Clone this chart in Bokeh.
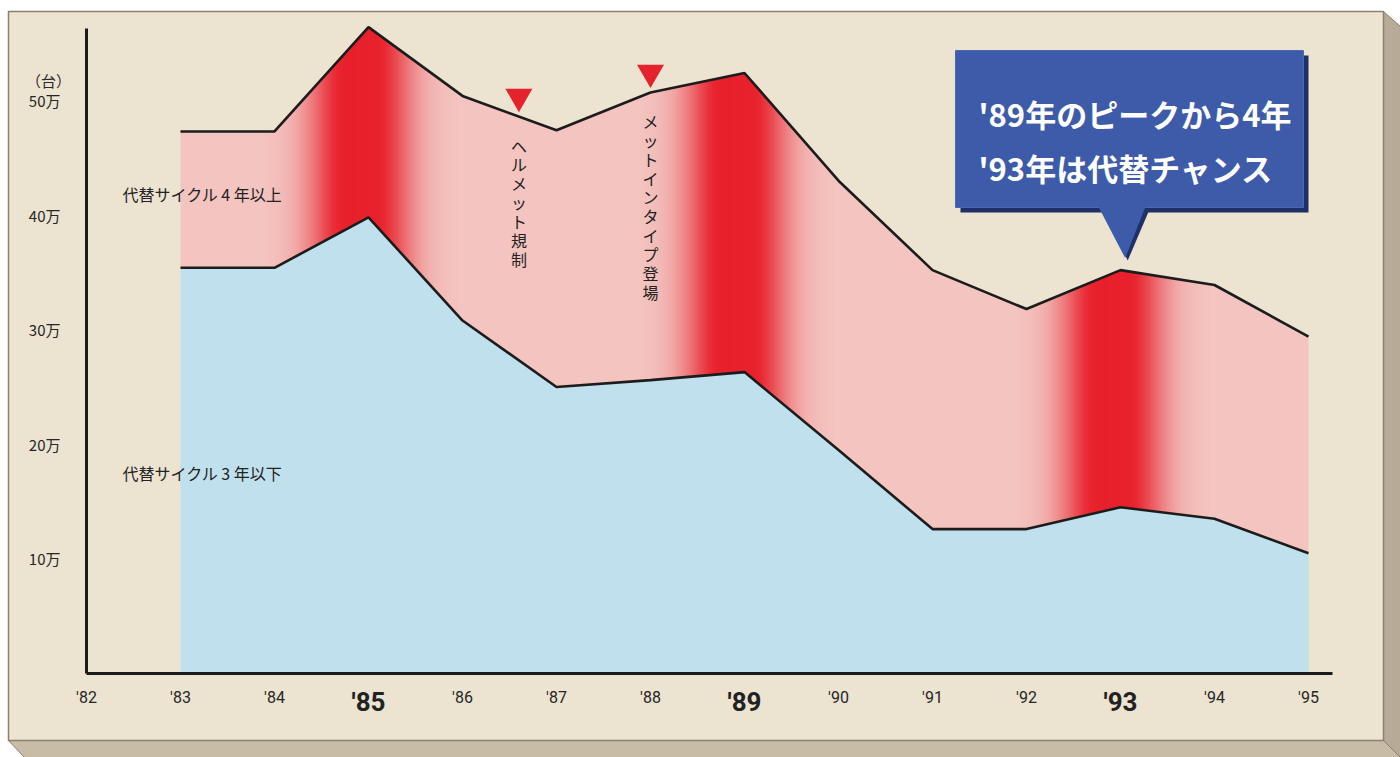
import numpy as np
from bokeh.plotting import figure
from bokeh.models import Range1d, FixedTicker, LinearAxis
from bokeh.core.properties import value
from bokeh.embed import file_html
from bokeh.resources import INLINE

# ---------------- data (万台) ----------------
years = [1983, 1984, 1985, 1986, 1987, 1988, 1989, 1990, 1991, 1992, 1993, 1994, 1995]
cycle3_under = [35.4, 35.4, 39.8, 30.8, 25.0, 25.6, 26.3, 19.5, 12.6, 12.6, 14.5, 13.5, 10.5]   # 代替サイクル3年以下
cycle4_over = [11.9, 11.9, 16.6, 19.6, 22.4, 25.1, 26.1, 23.5, 22.6, 19.2, 20.7, 20.4, 18.9]    # 代替サイクル4年以上
series_labels = ["代替サイクル 4 年以上", "代替サイクル 3 年以下"]

tick_years = list(range(1982, 1996))
tick_labels = ["'82", "'83", "'84", "'85", "'86", "'87", "'88", "'89", "'90", "'91", "'92", "'93", "'94", "'95"]
highlight_years = [1985, 1989, 1993]

y_ticks = [10, 20, 30, 40, 50]
y_labels = ["10万", "20万", "30万", "40万", "50万"]
y_unit = "（台）"

event_years = [1986.6, 1988.0]
event_labels = ["ヘルメット規制", "メットインタイプ登場"]

callout_lines = ["'89年のピークから4年", "'93年は代替チャンス"]
callout_year = 1993

# ---------------- derived ----------------
lower = np.array(cycle3_under)
total = lower + np.array(cycle4_over)

# ---------------- styling / geometry ----------------
BEIGE = "#ece3d1"
PINK = (243, 196, 192)
RED = (232, 33, 45)
BLUE = "#bfe0ec"
INK = "#1c1c1c"
JP = "Noto Sans CJK JP"
NUM = "Roboto"

W, H = 1400, 757
PX_YEAR = 94.0          # pixels per year
PX_UNIT = 11.46         # pixels per 1万台
ORIGIN_X, ORIGIN_Y = 86, 673   # pixel position of ('82, 0)


def X(px):
    return 1982 + (px - ORIGIN_X) / PX_YEAR


def Y(py):
    return (ORIGIN_Y - py) / PX_UNIT


p = figure(width=W, height=H, output_backend="svg", toolbar_location=None,
           x_range=Range1d(X(0), X(W)), y_range=Range1d(Y(H), Y(0)),
           x_axis_location=None, y_axis_location=None)
p.min_border = 0
p.background_fill_color = "white"
p.border_fill_color = "white"
p.outline_line_color = None
p.grid.visible = False

# board with bevelled sides
p.patch(x=[X(8), X(1383), X(1400), X(24)], y=[Y(740), Y(740), Y(757), Y(757)],
        fill_color="#c8bca6", line_color="#8a8172", line_width=1)
p.patch(x=[X(1383), X(1400), X(1400), X(1383)], y=[Y(11), Y(26), Y(757), Y(740)],
        fill_color="#b7ab97", line_color="#8a8172", line_width=1)
p.quad(left=X(8), right=X(1383), top=Y(11), bottom=Y(740), fill_color=BEIGE,
       line_color="#8a8172", line_width=1.5)

# blue lower area and pink upper area
p.varea(x=years, y1=0, y2=lower, fill_color=BLUE)
p.varea(x=years, y1=lower, y2=total, fill_color="#%02x%02x%02x" % PINK)

# red gradient bands around the highlighted years
xd = np.union1d(np.round(np.arange(years[0], years[-1] + 1e-9, 0.02), 4), years)
lo = np.interp(xd, years, lower)
hi = np.interp(xd, years, total)
xs, ys, cols = [], [], []
for i in range(len(xd) - 1):
    xm = 0.5 * (xd[i] + xd[i + 1])
    d = min(abs(xm - (c - 0.08)) for c in highlight_years)
    w = 1.0 if d < 0.16 else float(np.exp(-((d - 0.16) / 0.40) ** 2))
    if w < 0.01:
        continue
    rgb = tuple(int(round(PINK[k] + (RED[k] - PINK[k]) * w)) for k in range(3))
    cols.append("#%02x%02x%02x" % rgb)
    xs.append([xd[i], xd[i + 1], xd[i + 1], xd[i]])
    ys.append([lo[i], lo[i + 1], hi[i + 1], hi[i]])
p.patches(xs=xs, ys=ys, fill_color=cols, line_color=cols, line_width=1)

# outlines
p.line(years, total, line_color=INK, line_width=2.6)
p.line(years, lower, line_color=INK, line_width=2.6)

# axes (fixed inside the board)
xaxis = LinearAxis(fixed_location=0, ticker=FixedTicker(ticks=tick_years),
                   major_label_overrides={y: ("" if y in highlight_years else t)
                                          for y, t in zip(tick_years, tick_labels)},
                   bounds=(1982, years[-1] + 0.26))
yaxis = LinearAxis(fixed_location=1982, ticker=FixedTicker(ticks=y_ticks),
                   major_label_overrides={v: t for v, t in zip(y_ticks, y_labels)},
                   bounds=(0, 56.3))
for ax in (xaxis, yaxis):
    ax.axis_line_color = INK
    ax.axis_line_width = 3
    ax.major_tick_line_color = None
    ax.minor_tick_line_color = None
    ax.major_label_text_color = "#262626"
xaxis.major_label_text_font = NUM
xaxis.major_label_text_font_size = "16px"
xaxis.major_label_standoff = 8
yaxis.major_label_text_font = JP
yaxis.major_label_text_font_size = "15px"
yaxis.major_label_standoff = 20
p.add_layout(xaxis, "below")
p.add_layout(yaxis, "left")

# emphasised year labels and unit label
p.text(x=highlight_years, y=[-13 / PX_UNIT] * len(highlight_years),
       text=[t for yr, t in zip(tick_years, tick_labels) if yr in highlight_years],
       text_font=value(NUM), text_font_style="bold", text_font_size="26px", text_color="#222222",
       text_align="center", text_baseline="top")
p.text(x=[X(48)], y=[Y(80)], text=[y_unit], text_font=value(JP), text_font_size="15px",
       text_color="#2a2a2a", text_align="center", text_baseline="middle")

# series labels
p.text(x=[X(122), X(122)], y=[Y(193), Y(472)], text=series_labels, text_font=value(JP),
       text_font_size="16px", text_color="#222222", text_align="left", text_baseline="middle")

# event markers and vertical texts
ev_total = np.interp(event_years, years, total)
p.scatter(x=event_years, y=ev_total + 20 / PX_UNIT, marker="inverted_triangle", size=27,
          fill_color="#e5232d", line_color=None)
p.text(x=event_years, y=ev_total - 17 / PX_UNIT, text=["\n".join(list(s)) for s in event_labels],
       text_font=value(JP), text_font_size="16px", text_line_height=0.79, text_color="#222222",
       text_align="center", text_baseline="top")

# callout box
ct = float(np.interp(callout_year, years, total))
bx0, bx1 = X(955), X(1303)
by0, by1 = Y(207), Y(50)
tip_x, tip_y = callout_year + 0.05, ct + 12 / PX_UNIT
sdx, sdy = 5 / PX_YEAR, -5 / PX_UNIT
SHADOW, BOX = "#1f2f68", "#3d5ba8"
p.quad(left=bx0 + sdx, right=bx1 + sdx, bottom=by0 + sdy, top=by1 + sdy, fill_color=SHADOW, line_color=None)
p.patch(x=[callout_year - 0.24 + sdx, callout_year + 0.27 + sdx, tip_x + sdx / 2],
        y=[by0 + 0.1, by0 + 0.1, tip_y + sdy / 2], fill_color=SHADOW, line_color=None)
p.quad(left=bx0, right=bx1, bottom=by0, top=by1, fill_color=BOX, line_color="#4a68b4", line_width=1)
p.patch(x=[callout_year - 0.24, callout_year + 0.27, tip_x],
        y=[by0 + 0.15, by0 + 0.15, tip_y], fill_color=BOX, line_color=None)
p.text(x=[X(978), X(978)], y=[Y(113), Y(167)], text=callout_lines,
       text_font=value(JP), text_font_style="bold", text_font_size="31px", text_color="white",
       text_align="left", text_baseline="middle")

open("out.html", "w").write(file_html(p, INLINE))
